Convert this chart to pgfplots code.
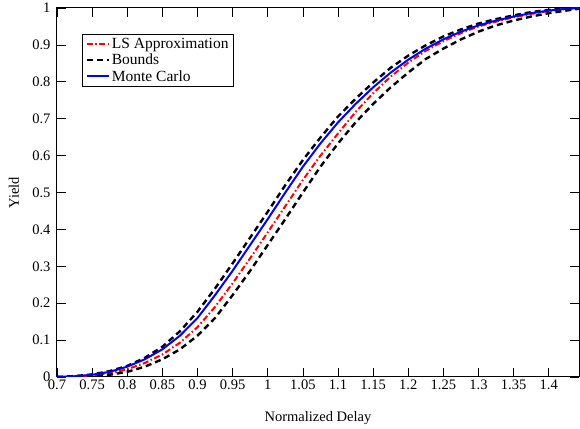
\documentclass[border=0pt]{standalone}
\usepackage{fontspec}
\setmainfont{Liberation Serif}
\usepackage{pgfplots}
\pgfplotsset{compat=1.18}
\usepackage{pgfplotstable}

\pgfplotstableread{
x      mc     ls     lo     up
0.700  0.000  0.000  0.000  0.000
0.725  0.002  0.001  0.000  0.0025
0.750  0.006  0.004  0.002  0.007
0.775  0.014  0.010  0.006  0.016
0.800  0.028  0.021  0.014  0.030
0.825  0.048  0.038  0.028  0.052
0.850  0.075  0.061  0.048  0.082
0.875  0.112  0.093  0.075  0.124
0.900  0.160  0.135  0.112  0.177
0.925  0.222  0.190  0.160  0.240
0.950  0.288  0.254  0.222  0.308
0.975  0.358  0.322  0.288  0.378
1.000  0.428  0.392  0.358  0.448
1.025  0.500  0.463  0.428  0.520
1.050  0.570  0.534  0.500  0.588
1.075  0.633  0.600  0.570  0.649
1.100  0.690  0.660  0.633  0.706
1.125  0.740  0.718  0.690  0.754
1.150  0.785  0.769  0.740  0.798
1.175  0.825  0.814  0.785  0.838
1.200  0.860  0.852  0.825  0.871
1.225  0.890  0.884  0.862  0.899
1.250  0.915  0.910  0.890  0.923
1.275  0.936  0.932  0.915  0.942
1.300  0.953  0.950  0.936  0.958
1.325  0.966  0.963  0.953  0.970
1.350  0.977  0.975  0.966  0.980
1.375  0.986  0.984  0.977  0.989
1.400  0.993  0.992  0.986  0.995
1.425  0.998  0.997  0.993  0.999
1.443  1.000  0.9995 0.998  1.000
}\datatable

\begin{document}
\begin{tikzpicture}
\begin{axis}[
  scale only axis,
  width=522pt, height=369pt,
  xmin=0.7, xmax=1.443,
  ymin=0, ymax=1,
  xtick={0.7,0.75,0.8,0.85,0.9,0.95,1,1.05,1.1,1.15,1.2,1.25,1.3,1.35,1.4},
  xticklabels={0.7,0.75,0.8,0.85,0.9,0.95,1,1.05,1.1,1.15,1.2,1.25,1.3,1.35,1.4},
  ytick={0,0.1,0.2,0.3,0.4,0.5,0.6,0.7,0.8,0.9,1},
  yticklabels={0,0.1,0.2,0.3,0.4,0.5,0.6,0.7,0.8,0.9,1},
  tick align=inside,
  major tick length=9pt,
  tick style={black, line width=0.6pt},
  axis line style={black, line width=1pt},
  font=\fontsize{14.5}{17}\selectfont,
  ticklabel style={font=\fontsize{14.5}{17}\selectfont},
  xticklabel style={yshift=1pt},
  yticklabel style={inner ysep=1pt, xshift=-3pt},
  xlabel={Normalized Delay},
  ylabel={Yield},
  xlabel style={at={(axis description cs:0.5,-0.111)}, anchor=center},
  ylabel style={at={(axis description cs:-0.0824,0.5)}, anchor=center},
  legend cell align=left,
  legend style={at={(axis description cs:0.048,0.93)}, anchor=north west,
    draw=black, line width=0.8pt, font=\fontsize{15.5}{18}\selectfont,
    row sep=0pt, inner xsep=3pt, inner ysep=2pt},
  legend image code/.code={\draw[#1] (0pt,0pt) -- (22pt,0pt);},
]
\coordinate (ll) at (rel axis cs:0,0);
\coordinate (ur) at (rel axis cs:1,1);
\addplot[draw=red, line width=2pt, dash pattern=on 6pt off 2.5pt on 1.5pt off 2.5pt] table[x=x,y=ls] {\datatable};
\addlegendentry{LS Approximation}
\addplot[draw=black, line width=2.4pt, dash pattern=on 6pt off 4pt] table[x=x,y=lo] {\datatable};
\addlegendentry{Bounds}
\addplot[draw=black, line width=2.4pt, dash pattern=on 6pt off 4pt, forget plot] table[x=x,y=up] {\datatable};
\addplot[draw=blue, line width=2pt] table[x=x,y=mc] {\datatable};
\addlegendentry{Monte Carlo}
\end{axis}
\path (ll) ++(-57pt,-52pt);
\path (ur) ++(1pt,8pt);
\end{tikzpicture}
\end{document}
